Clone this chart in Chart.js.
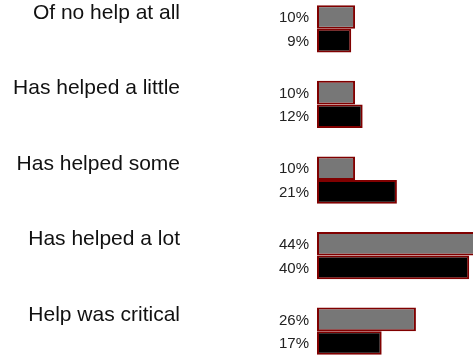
<!DOCTYPE html>
<html>
<head>
<meta charset="utf-8">
<script src="https://cdn.jsdelivr.net/npm/chart.js@4"></script>
<style>
    html, body { margin: 0; padding: 0; background: #fff; overflow: hidden; }
    #wrap { width: 473px; height: 355px; position: relative; overflow: hidden; }
    #inner { position: absolute; left: 0; top: -9px; width: 473px; height: 378px; }
</style>
</head>
<body>
<div id="wrap"><div id="inner"><canvas id="helpChart"></canvas></div></div>
<script>
// Chart data
var categories = ['Of no help at all', 'Has helped a little', 'Has helped some', 'Has helped a lot', 'Help was critical'];
var greyValues = [10, 10, 10, 44, 26];
var blackValues = [9, 12, 21, 40, 17];

// draws the "10%" labels left of each bar
var valueLabels = {
    id: 'valueLabels',
    afterDatasetsDraw: function (chart) {
        var ctx = chart.ctx;
        ctx.save();
        ctx.font = '15px "Liberation Sans", Arial, sans-serif';
        ctx.fillStyle = '#222';
        ctx.textAlign = 'right';
        ctx.textBaseline = 'middle';
        chart.data.datasets.forEach(function (ds, i) {
            var meta = chart.getDatasetMeta(i);
            meta.data.forEach(function (bar, j) {
                ctx.fillText(ds.data[j] + '%', bar.base - 8, bar.y + 1);
            });
        });
        ctx.restore();
    }
};

function initHelpChart() {
    var ctx = document.getElementById('helpChart').getContext('2d');
    return new Chart(ctx, {
        type: 'bar',
        data: {
            labels: categories,
            datasets: [{
                data: greyValues,
                backgroundColor: '#777777',
                borderColor: '#800000',
                borderWidth: 2,
                borderSkipped: false,
                clip: false
            }, {
                data: blackValues,
                backgroundColor: '#000000',
                borderColor: '#800000',
                borderWidth: 2,
                borderSkipped: false,
                clip: false
            }]
        },
        options: {
            indexAxis: 'y',
            responsive: true,
            maintainAspectRatio: false,
            animation: false,
            categoryPercentage: 0.625,
            barPercentage: 1.0,
            layout: {
                padding: 0
            },
            plugins: {
                legend: { display: false },
                tooltip: { enabled: false }
            },
            scales: {
                x: {
                    display: false,
                    min: 0,
                    max: 41
                },
                y: {
                    grid: { display: false, drawTicks: false },
                    border: { display: false },
                    ticks: {
                        padding: 137,
                        labelOffset: -16,
                        color: '#111',
                        font: { family: '"Liberation Sans", Arial, sans-serif', size: 21 }
                    },
                    afterFit: function (scale) {
                        scale.width = 317;
                        // tick padding would otherwise eat the plot height
                        scale.paddingTop = 0;
                        scale.paddingBottom = 0;
                    }
                }
            }
        },
        plugins: [valueLabels]
    });
}

initHelpChart();
</script>
</body>
</html>
